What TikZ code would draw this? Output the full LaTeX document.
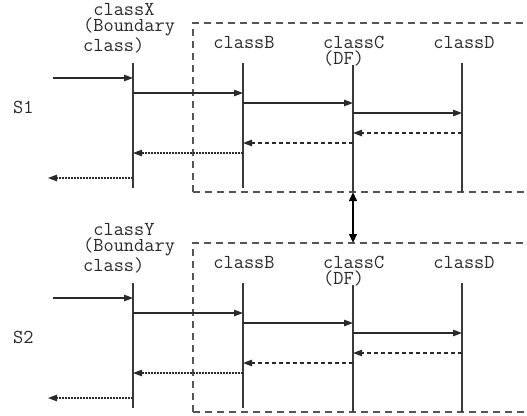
\documentclass[tikz,border=0pt]{standalone}
\usepackage{fontspec}
\usetikzlibrary{arrows.meta}
\definecolor{lifegray}{HTML}{3A3A3A}
\definecolor{boxgray}{HTML}{555555}
\definecolor{inkgray}{HTML}{2A2A2A}
\tikzset{
  lbl/.style={font=\ttfamily\fontsize{19.8}{16.5}\selectfont, inner sep=0pt, text=inkgray},
  lifeline/.style={draw=lifegray, line width=1.1pt},
  msg/.style={draw=inkgray, line width=1.1pt, -{Triangle[length=9pt,width=6.5pt]}},
  reply/.style={msg, dash pattern=on 4pt off 3pt},
  ret/.style={msg, dash pattern=on 2pt off 1pt},
  groupbox/.style={draw=boxgray, line width=1.2pt, dash pattern=on 7pt off 5pt},
  linkarrow/.style={draw=black, line width=2.3pt,
    {Triangle[length=9pt,width=7.5pt]}-{Triangle[length=9pt,width=7.5pt]}},
}
% one sequence panel: #1 name prefix, #2 boundary class, #3 scenario tag,
% #4 vertical offset, #5 baseline of the tag
\newcommand\seqpanel[5]{%
\begin{scope}[shift={(0,#4)}]
  % grouping frame around classB .. classD
  \coordinate (#1boxTL) at (193,23);
  \coordinate (#1boxBL) at (193,192);
  \coordinate (#1boxTR) at (527,23);
  \coordinate (#1boxBR) at (527,192);
  \coordinate (#1boxC)  at (353,23);
  \draw[groupbox] (#1boxBL) -- (#1boxTL) -- (#1boxTR);
  \draw[groupbox] (#1boxBL) -- (#1boxBR);
  % class headers (base anchor sits on the last line)
  \node[lbl, anchor=base west, align=left] (#1hdX) at (83,51) {~#2\\(Boundary\\class)};
  \node[lbl, anchor=base] (#1hdB) at (244,48) {classB};
  \node[lbl, anchor=base west, align=left] (#1hdC) at (323,64.5) {classC\\(DF)};
  \node[lbl, anchor=base] (#1hdD) at (464,48) {classD};
  \node[lbl, anchor=base west] (#1tag) at (13,#5) {#3};
  % lifelines
  \coordinate (#1Xt) at (133,63);  \coordinate (#1Xb) at (133,188);
  \coordinate (#1Bt) at (243,63);  \coordinate (#1Bb) at (243,188);
  \coordinate (#1Ct) at (353,65);  \coordinate (#1Cb) at (353,192);
  \coordinate (#1Dt) at (462,63);  \coordinate (#1Db) at (462,192);
  \draw[lifeline] (#1Xt) -- (#1Xb);
  \draw[lifeline] (#1Bt) -- (#1Bb);
  \draw[lifeline] (#1Ct) -- (#1Cb);
  \draw[lifeline] (#1Dt) -- (#1Db);
  % message levels
  \coordinate (#1src) at (53,78);
  \coordinate (#1m2) at (0,93);
  \coordinate (#1m3) at (0,103);
  \coordinate (#1m4) at (0,113);
  \coordinate (#1m5) at (0,133);
  \coordinate (#1m6) at (0,143);
  \coordinate (#1m7) at (0,153);
  \coordinate (#1out) at (48,178);
  % calls
  \draw[msg] (#1src) -- (#1Xt |- #1src);
  \draw[msg] (#1Xt |- #1m2) -- (#1Bt |- #1m2);
  \draw[msg] (#1Bt |- #1m3) -- (#1Ct |- #1m3);
  \draw[msg] (#1Ct |- #1m4) -- (#1Dt |- #1m4);
  % returns
  \draw[reply] (#1Dt |- #1m5) -- (#1Ct |- #1m5);
  \draw[reply] (#1Ct |- #1m6) -- (#1Bt |- #1m6);
  \draw[ret] (#1Bt |- #1m7) -- (#1Xt |- #1m7);
  \draw[ret] (#1Xt |- #1out) -- (#1out);
\end{scope}}
\begin{document}
\begin{tikzpicture}[x=1pt, y=-1pt]
  \useasboundingbox (0,0) rectangle (527,415);
  \seqpanel{pa}{classX}{S1}{0}{113}
  \seqpanel{pb}{classY}{S2}{220}{123}
  % link between the two DF lifelines
  \draw[linkarrow] (paCb) -- (pbboxC);
\end{tikzpicture}
\end{document}
